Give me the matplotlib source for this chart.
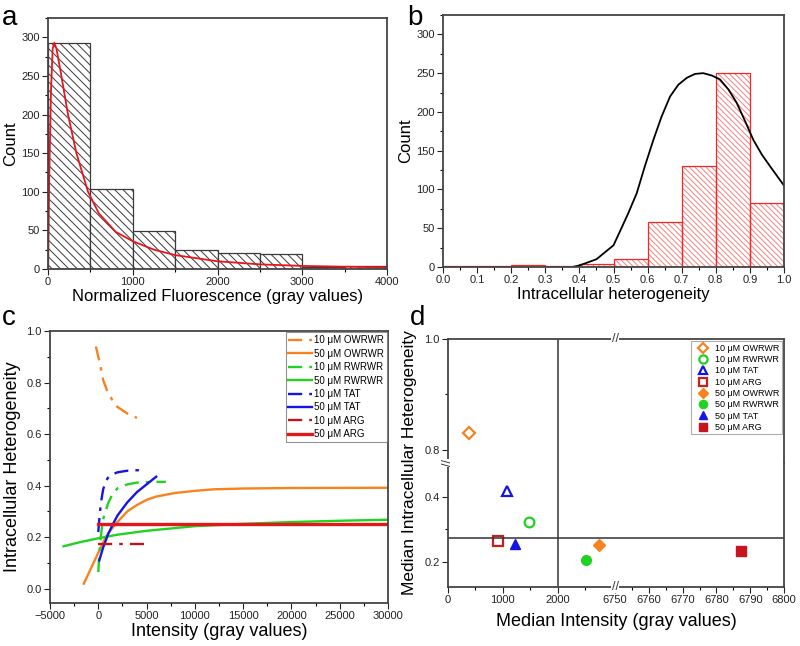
import numpy as np
import matplotlib
matplotlib.use("Agg")
import matplotlib.pyplot as plt
from matplotlib.ticker import MultipleLocator, FixedLocator

plt.rcParams['font.family'] = ['Liberation Sans', 'DejaVu Sans']
plt.rcParams['hatch.linewidth'] = 0.7

# ---- panel a: fluorescence histogram + fit
a_edges = [0, 500, 1000, 1500, 2000, 2500, 3000, 3500, 4000]
a_counts = [293, 103, 49, 24, 21, 19, 3, 4]
a_fit_x = [0, 15, 35, 55, 75, 100, 150, 236, 335, 472, 600, 800, 1000, 1250,
           1500, 2000, 2500, 3000, 3500, 4000]
a_fit_y = [0, 120, 230, 285, 293, 285, 255, 200, 150, 100, 72, 48, 36, 25,
           18, 10, 6, 4, 3, 2]

# ---- panel b: heterogeneity histogram + fit
b_edges = [0.0, 0.1, 0.2, 0.3, 0.4, 0.5, 0.6, 0.7, 0.8, 0.9, 1.0]
b_counts = [1, 1, 2, 1, 4, 10, 58, 130, 250, 82]
b_fit_x = [0.38, 0.40, 0.45, 0.50, 0.519, 0.543, 0.568, 0.592, 0.617, 0.641,
           0.666, 0.69, 0.715, 0.739, 0.763, 0.788, 0.812, 0.837, 0.861, 0.886,
           0.91, 0.935, 0.959, 1.0]
b_fit_y = [0, 2, 10, 28, 46, 69, 95, 130, 164, 194,
           220, 235, 244, 249, 250, 247, 242, 229, 212, 188,
           164, 145, 130, 105]

# ---- panel c: fitted curves
c_labels = ['10 \u03bcM OWRWR', '50 \u03bcM OWRWR', '10 \u03bcM RWRWR', '50 \u03bcM RWRWR',
            '10 \u03bcM TAT', '50 \u03bcM TAT', '10 \u03bcM ARG', '50 \u03bcM ARG']
c_x = [
    [-250, 0, 250, 500, 1000, 1500, 2000, 3000, 4000],
    [-1500, -1000, -500, 0, 500, 1000, 2000, 3000, 4000, 5000, 6000, 8000, 10000,
     12000, 15000, 20000, 30000],
    [0, 100, 250, 500, 1000, 1500, 2000, 3000, 4000, 5000, 7000],
    [-3600, -2000, 0, 2000, 5000, 10000, 15000, 20000, 25000, 30000],
    [0, 150, 300, 500, 800, 1200, 2000, 3000, 4000, 4800],
    [100, 500, 1000, 1500, 2000, 3000, 4000, 5000, 6000],
    [0, 5500],
    [0, 30000],
]
c_y = [
    [0.94, 0.90, 0.86, 0.81, 0.76, 0.73, 0.705, 0.68, 0.663],
    [0.02, 0.06, 0.10, 0.14, 0.18, 0.215, 0.26, 0.30, 0.325, 0.345, 0.358, 0.372,
     0.38, 0.386, 0.389, 0.391, 0.392],
    [0.065, 0.13, 0.20, 0.27, 0.33, 0.37, 0.39, 0.405, 0.412, 0.414, 0.415],
    [0.165, 0.18, 0.196, 0.21, 0.225, 0.243, 0.252, 0.259, 0.264, 0.268],
    [0.22, 0.29, 0.34, 0.385, 0.42, 0.44, 0.452, 0.458, 0.46, 0.46],
    [0.11, 0.16, 0.21, 0.25, 0.285, 0.335, 0.375, 0.405, 0.435],
    [0.172, 0.172],
    [0.25, 0.25],
]
c_colors = ['#f7821e', '#f7821e', '#22d222', '#22d222', '#1414e6', '#1414e6',
            '#c0141e', '#e01a1a']
c_dashed = [True, False, True, False, True, False, True, False]

# ---- panel d: medians
d_labels = c_labels[0::2] + c_labels[1::2]
d_x = [379, 1480, 1083, 911, 2752, 2526, 1223, 6787.3]
d_y = [0.83, 0.321, 0.417, 0.265, 0.251, 0.205, 0.254, 0.234]
d_markers = ['D', 'o', '^', 's', 'D', 'o', '^', 's']
d_colors = ['#f7821e', '#22d222', '#1414e6', '#c81e1e',
            '#f7821e', '#22d222', '#1414e6', '#c8141e']
d_filled = [False, False, False, False, True, True, True, True]
d_hline = 0.274
d_vline = 2000

W, H = 800, 646
fig = plt.figure(figsize=(8, 6.46), dpi=100)


def box(l, t, r, b):
    return [l / W, 1 - b / H, (r - l) / W, (b - t) / H]


def style(ax):
    for s in ax.spines.values():
        s.set_color('#444444')
        s.set_linewidth(1.3)
    ax.tick_params(labelsize=8, length=4, width=0.8, pad=2, colors='#222222')
    ax.tick_params(which='minor', length=2.5, width=0.8)


def letter(x, y, s):
    # y is the bottom of the text box in pixels from the top
    fig.text(x / W, 1 - y / H, s, fontsize=20, va='bottom')


# a
ax = fig.add_axes(box(48, 18, 387, 269))
ax.bar(a_edges[:-1], a_counts, width=np.diff(a_edges), align='edge',
       facecolor='white', edgecolor='#3a3a3a', hatch='\\\\\\\\', linewidth=0.9)
ax.plot(a_fit_x, a_fit_y, color='#e8141e', lw=1.3)
ax.set_xlim(0, 4000)
ax.set_ylim(0, 325)
ax.set_yticks(range(0, 301, 50))
ax.xaxis.set_major_locator(MultipleLocator(1000))
ax.xaxis.set_minor_locator(MultipleLocator(500))
ax.yaxis.set_minor_locator(MultipleLocator(25))
ax.set_xlabel('Normalized Fluorescence (gray values)', fontsize=12, labelpad=1)
ax.set_ylabel('Count', fontsize=12, labelpad=2)
style(ax)
letter(2, 31, 'a')

# b
ax = fig.add_axes(box(443, 15, 784, 267))
ax.bar(b_edges[:-1], b_counts, width=np.diff(b_edges), align='edge',
       facecolor='white', edgecolor='#f58080', hatch='\\\\\\\\\\\\', linewidth=0)
ax.bar(b_edges[:-1], b_counts, width=np.diff(b_edges), align='edge',
       fill=False, edgecolor='#f02828', linewidth=0.9)
ax.plot(b_fit_x, b_fit_y, color='black', lw=1.3)
ax.set_xlim(0, 1.0)
ax.set_ylim(0, 325)
ax.set_yticks(range(0, 301, 50))
ax.xaxis.set_major_locator(MultipleLocator(0.1))
ax.xaxis.set_minor_locator(MultipleLocator(0.05))
ax.yaxis.set_minor_locator(MultipleLocator(25))
ax.set_xlabel('Intracellular heterogeneity', fontsize=12, labelpad=1)
ax.set_ylabel('Count', fontsize=12, labelpad=2)
style(ax)
letter(407, 31, 'b')

# c
ax = fig.add_axes(box(50, 331, 388, 603))
for xs, ys, lab, col, dd in zip(c_x, c_y, c_labels, c_colors, c_dashed):
    lw = 2.4 if lab == '50 \u03bcM ARG' else 1.7
    ls = (0, (6, 3, 1.5, 3)) if dd else '-'
    ax.plot(xs, ys, color=col, lw=lw, ls=ls, label=lab)
ax.set_xlim(-5000, 30000)
ax.set_ylim(-0.055, 1.0)
ax.xaxis.set_major_locator(MultipleLocator(5000))
ax.xaxis.set_minor_locator(MultipleLocator(2500))
ax.yaxis.set_major_locator(MultipleLocator(0.2))
ax.yaxis.set_minor_locator(MultipleLocator(0.1))
ax.yaxis.set_major_formatter(lambda v, p: f'{v:.1f}')
ax.set_xlabel('Intensity (gray values)', fontsize=13, labelpad=1)
ax.set_ylabel('Intracellular Heterogeneity', fontsize=13, labelpad=4)
style(ax)
leg = ax.legend(loc='upper right', fontsize=7, frameon=True, fancybox=False,
                borderaxespad=0.15, handlelength=2.4, handletextpad=0.2,
                labelspacing=0.35, borderpad=0.3)
leg.get_frame().set_edgecolor('#777777')
leg.get_frame().set_linewidth(0.8)
letter(2, 331, 'c')

# d: broken axes (2 x 2 pieces)
xl, xm, xr = 448, 615, 784
yt, ym, yb = 339, 463, 587
d_xlims = [(0, 3050), (6750, 6800)]
d_ylims = [(0.776, 1.0), (0.123, 0.503)]
axes_d = {}
for i, (t, b) in enumerate([(yt, ym), (ym, yb)]):
    for j, (l, r) in enumerate([(xl, xm), (xm, xr)]):
        a2 = fig.add_axes(box(l, t, r, b))
        axes_d[(i, j)] = a2
        for xv, yv, lab, mk, col, fl in zip(d_x, d_y, d_labels, d_markers, d_colors, d_filled):
            ms = 7 if mk != 'D' else 6.5
            if fl:
                a2.plot([xv], [yv], mk, color=col, ms=ms, mec=col, label=lab)
            else:
                a2.plot([xv], [yv], mk, mfc='none', mec=col, mew=1.6, ms=ms, label=lab)
        a2.set_xlim(*d_xlims[j])
        a2.set_ylim(*d_ylims[i])
        style(a2)
        a2.spines['top'].set_visible(i == 0)
        a2.spines['bottom'].set_visible(i == 1)
        a2.spines['left'].set_visible(j == 0)
        a2.spines['right'].set_visible(j == 1)
        if j == 0:
            a2.axvline(d_vline, color='#333333', lw=1.1)
            a2.xaxis.set_major_locator(FixedLocator([0, 1000, 2000]))
            a2.xaxis.set_minor_locator(FixedLocator([500, 1500, 2500]))
        else:
            a2.xaxis.set_major_locator(MultipleLocator(10))
            a2.xaxis.set_minor_locator(MultipleLocator(5))
            a2.tick_params(axis='y', which='both', left=False, labelleft=False)
        if i == 1:
            a2.axhline(d_hline, color='#333333', lw=1.1)
            a2.yaxis.set_major_locator(FixedLocator([0.2, 0.4]))
            a2.yaxis.set_minor_locator(FixedLocator([0.3]))
        else:
            a2.yaxis.set_major_locator(FixedLocator([0.8, 1.0]))
            a2.yaxis.set_minor_locator(FixedLocator([0.9]))
            a2.tick_params(axis='x', which='both', bottom=False, labelbottom=False)
        a2.yaxis.set_major_formatter(lambda v, p: f'{v:.1f}')

leg = axes_d[(0, 1)].legend(loc='upper right', fontsize=6.5, frameon=True, fancybox=False,
                            borderaxespad=0.25, handletextpad=0.3, labelspacing=0.25,
                            borderpad=0.3, numpoints=1, markerscale=0.85)
leg.get_frame().set_edgecolor('#999999')
leg.get_frame().set_linewidth(0.8)

# break marks
for (bx, by, rot) in [(xm, yt, 0), (xm, yb, 0), (xl, ym, 90)]:
    fig.text(bx / W, 1 - by / H, '//', fontsize=9, ha='center', va='center',
             color='#333333', rotation=rot,
             bbox=dict(facecolor='white', edgecolor='none', pad=0.3))

fig.text(410 / W, 1 - 463 / H, 'Median Intracellular Heterogeneity',
         rotation=90, fontsize=12.5, ha='center', va='center')
fig.text(616 / W, 1 - 621 / H, 'Median Intensity (gray values)', fontsize=13,
         ha='center', va='center')
letter(410, 331, 'd')

fig.savefig('out.png', dpi=100)
